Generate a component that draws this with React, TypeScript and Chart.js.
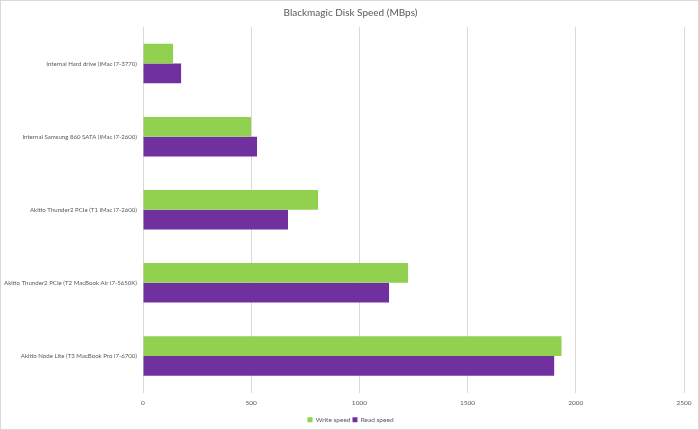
import React, { useEffect, useRef } from "react";
import { Chart, registerables } from "chart.js";

Chart.register(...registerables);

const categories = [
  "Internal Hard drive (iMac i7-3770)",
  "Internal Samsung 860 SATA (iMac i7-2600)",
  "Akitio Thunder2 PCIe (T1 iMac i7-2600)",
  "Akitio Thunder2 PCIe (T2 MacBook Air i7-5650K)",
  "Akitio Node Lite (T3 MacBook Pro i7-6700)",
];
const writeSpeed = [139, 499, 809, 1225, 1934];
const readSpeed = [176, 527, 670, 1137, 1900];
const xTicks = [0, 500, 1000, 1500, 2000, 2500];

const FONT = "Lato, 'Open Sans', sans-serif";

export default function App() {
  const ref = useRef<HTMLCanvasElement | null>(null);
  useEffect(() => {
    document.body.style.margin = "0";
    const ctx = ref.current!;
    const chart = new Chart(ctx, {
      type: "bar",
      data: {
        labels: categories,
        datasets: [
          {
            label: "Write speed",
            data: writeSpeed,
            backgroundColor: "#92D050",
            borderWidth: 0,
          },
          {
            label: "Read speed",
            data: readSpeed,
            backgroundColor: "#7030A0",
            borderWidth: 0,
          },
        ],
      },
      options: {
        indexAxis: "y",
        animation: false,
        responsive: false,
        maintainAspectRatio: false,
        layout: { padding: { left: 17, right: 15, top: 0, bottom: -3 } },
        datasets: { bar: { categoryPercentage: 0.54, barPercentage: 1.0 } },
        plugins: {
          title: {
            display: true,
            text: "Blackmagic Disk Speed (MBps)",
            color: "#595959",
            font: { family: FONT, size: 10, weight: "normal" },
            padding: { top: 7, bottom: 8 },
          },
          legend: {
            position: "bottom",
            labels: {
              color: "#595959",
              font: { family: FONT, size: 6.5 },
              boxWidth: 5,
              boxHeight: 5,
              padding: 2,
            },
          },
          tooltip: { enabled: false },
        },
        scales: {
          x: {
            min: 0,
            max: 2500,
            afterBuildTicks: (s: any) => {
              s.ticks = xTicks.map((v) => ({ value: v }));
            },
            afterFit: (s: any) => {
              s.height = 22;
            },
            grid: { color: "#d9d9d9", drawTicks: false },
            border: { display: false },
            ticks: {
              color: "#595959",
              font: { family: FONT, size: 6.5 },
              padding: 7,
              maxRotation: 0,
              callback: (v: any) => String(v),
            },
          },
          y: {
            grid: { display: false, drawTicks: false },
            border: { display: false },
            afterFit: (s: any) => {
              s.width = 126;
              s._computeLabelArea = () => undefined;
            },
            ticks: {
              color: "#595959",
              font: { family: FONT, size: 6.1 },
              padding: 6,
            },
          },
        },
      },
    });
    return () => chart.destroy();
  }, []);
  return (
    <div style={{ position: "relative", width: 699, height: 430 }}>
      <canvas ref={ref} width={699} height={430} style={{ display: "block" }} />
      <div
        style={{
          position: "absolute",
          left: 0,
          top: 0,
          width: 699,
          height: 430,
          boxSizing: "border-box",
          border: "1px solid #d9d9d9",
          pointerEvents: "none",
        }}
      />
    </div>
  );
}
